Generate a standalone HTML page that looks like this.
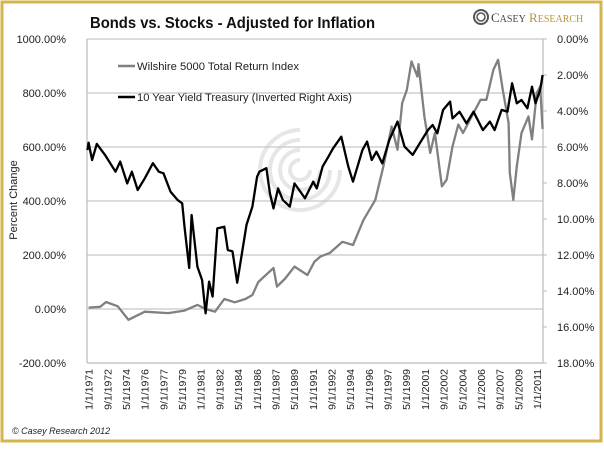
<!DOCTYPE html>
<html><head><meta charset="utf-8"><style>
body{margin:0;width:604px;height:444px;overflow:hidden;background:#fff;font-family:"Liberation Sans",sans-serif}
</style></head><body>
<svg id="c" width="604" height="444" xmlns="http://www.w3.org/2000/svg">
<rect x="2" y="2" width="599" height="439" fill="#fff" stroke="#d6b44c" stroke-width="3"/>
<text x="90" y="28" font-size="16" font-weight="bold" fill="#111" textLength="285" lengthAdjust="spacingAndGlyphs">Bonds vs. Stocks - Adjusted for Inflation</text>
<g>
<circle cx="481" cy="17" r="7" fill="none" stroke="#555" stroke-width="2"/>
<circle cx="481" cy="17" r="4" fill="none" stroke="#555" stroke-width="1.5"/>
<text x="491" y="22" font-family="Liberation Serif" font-size="13" fill="#444">C<tspan font-size="10">ASEY</tspan> <tspan fill="#b8953a">R<tspan font-size="10">ESEARCH</tspan></tspan></text>
</g>
<g id="wm" fill="none" stroke="#e6e6e6" stroke-width="4">
<path d="M300,160 a10,10 0 1,0 10,10"/><path d="M300,150 a20,20 0 1,0 20,20"/><path d="M300,140 a30,30 0 1,0 30,30"/><path d="M300,130 a40,40 0 1,0 40,40"/>
</g>
<g id="grid"></g>
<g id="axes"></g>
<g id="series"></g>
<g>
<line x1="118" y1="66" x2="135" y2="66" stroke="#808080" stroke-width="2.5"/>
<text x="137" y="70" font-size="11" fill="#222" textLength="162" lengthAdjust="spacingAndGlyphs">Wilshire 5000 Total Return Index</text>
<line x1="118" y1="97" x2="135" y2="97" stroke="#000" stroke-width="2.5"/>
<text x="137" y="101" font-size="11" fill="#222" textLength="215" lengthAdjust="spacingAndGlyphs">10 Year Yield Treasury (Inverted Right Axis)</text>
</g>
<text transform="translate(17,200) rotate(-90)" text-anchor="middle" font-size="11" fill="#222">Percent Change</text>
<text x="12" y="434" font-size="9" font-style="italic" fill="#222">© Casey Research 2012</text>
</svg>
<script>
const leftTicks=[1000,800,600,400,200,0,-200];
const rightTicks=[0,2,4,6,8,10,12,14,16,18];
const xLabels=["1/1/1971","9/1/1972","5/1/1974","1/1/1976","9/1/1977","5/1/1979","1/1/1981","9/1/1982","5/1/1984","1/1/1986","9/1/1987","5/1/1989","1/1/1991","9/1/1992","5/1/1994","1/1/1996","9/1/1997","5/1/1999","1/1/2001","9/1/2002","5/1/2004","1/1/2006","9/1/2007","5/1/2009","1/1/2011"];
const stockYears=[1971,1972,1972.5,1973.5,1974.4,1975.8,1977.8,1979.2,1980.3,1981,1981.8,1982.6,1983.5,1984.4,1985,1985.5,1986.8,1987.1,1987.8,1988.6,1989.7,1990.3,1990.8,1991.6,1992.7,1993.6,1994.5,1995.5,1996.2,1996.9,1997.4,1997.8,1998.2,1998.6,1999.1,1999.2,1999.7,2000.2,2000.6,2001.2,2001.6,2002.1,2002.6,2003,2003.9,2004.5,2005,2005.6,2006,2006.4,2006.9,2007,2007.3,2007.6,2008,2008.6,2008.9,2009.3,2009.6,2009.8];
const stockValues=[5,8,26,10,-40,-10,-15,-6,15,0,-10,37,25,37,52,100,152,83,113,157,126,175,194,207,249,237,330,404,528,676,590,763,811,917,861,907,713,578,652,454,479,602,683,652,726,775,775,886,923,811,689,504,404,528,652,713,628,800,824,667];
const bondYears=[1970.9,1971,1971.3,1971.7,1972.4,1973.3,1973.7,1974.3,1974.7,1975.2,1975.8,1976.5,1977,1977.4,1978,1978.6,1979,1979.2,1979.6,1979.8,1980.3,1980.7,1981,1981.3,1981.6,1982,1982.6,1982.9,1983.3,1983.7,1984.2,1984.5,1985,1985.4,1985.6,1986.2,1986.5,1986.8,1987.2,1987.6,1988.2,1988.6,1989.5,1990.2,1990.5,1991,1991.5,1991.9,1992.6,1993.2,1993.6,1994.4,1994.8,1995.2,1995.6,1996.1,1996.7,1997.4,1998,1998.7,1999.3,2000,2000.4,2000.8,2001.3,2001.9,2002.1,2002.7,2003.3,2003.9,2004.7,2005.3,2005.7,2006.3,2006.8,2007.2,2007.6,2008,2008.5,2008.9,2009.2,2009.6,2009.8];
const bondYields=[6.17,5.76,6.72,5.83,6.44,7.37,6.81,8.02,7.37,8.39,7.74,6.9,7.37,7.46,8.48,8.94,9.13,10.43,12.72,9.78,12.65,13.39,15.24,13.48,14.31,10.52,10.43,11.72,11.8,13.54,11.54,10.33,9.31,7.65,7.37,7.18,8.57,9.41,8.3,8.94,9.31,8.02,8.85,7.93,8.3,7.09,6.54,6.07,5.43,7.09,7.93,6.17,5.7,6.72,6.26,6.91,5.61,4.59,5.98,6.44,5.8,5.06,4.78,5.24,3.94,3.48,4.41,4.04,4.69,4.04,5.06,4.59,5.06,3.94,4.04,2.46,3.57,3.39,3.85,2.65,3.57,2.83,2.0];
const NS="http://www.w3.org/2000/svg";
const L=87,R=543,T=39,B=363;
const yL=v=>T+(1000-v)*(B-T)/1200;
const yR=v=>T+v*(B-T)/18;
const xY=yr=>88.6+(yr-1971)*11.7;
function mk(tag,attrs,parent){const e=document.createElementNS(NS,tag);for(const k in attrs)e.setAttribute(k,attrs[k]);parent.appendChild(e);return e;}
const grid=document.getElementById('grid'),axes=document.getElementById('axes'),ser=document.getElementById('series');
leftTicks.forEach(v=>{
 const g=mk('line',{x1:L,x2:R,y1:yL(v),y2:yL(v),stroke:v===-200?'#bbb':'#c8c8c8','stroke-width':1.2},grid);
 
 
 const t=mk('text',{x:L-21,y:yL(v)+4,'text-anchor':'end','font-size':11,fill:'#222'},axes);
 t.textContent=v.toFixed(2)+'%';
 
 
});
mk('line',{x1:L,x2:L,y1:T,y2:B,stroke:'#bbb','stroke-width':1.2},axes);
mk('line',{x1:R,x2:R,y1:T,y2:B,stroke:'#bbb','stroke-width':1.2},axes);
rightTicks.forEach(v=>{
 mk('line',{x1:R,x2:R+4,y1:yR(v),y2:yR(v),stroke:'#bbb'},axes);
 const t=mk('text',{x:R+14,y:yR(v)+4,'font-size':11,fill:'#222'},axes);
 t.textContent=v.toFixed(2)+'%';
 
 
});
const step=(537-88.6)/(xLabels.length-1);
xLabels.forEach((s,i)=>{
 const x=88.6+i*step+4;
 const t=mk('text',{transform:`translate(${x.toFixed(1)},${B+6}) rotate(-90)`,'text-anchor':'end','font-size':10.5,fill:'#222'},axes);
 t.textContent=s;
 
 
});
const sp=mk('polyline',{points:stockYears.map((y,i)=>xY(y).toFixed(1)+','+yL(stockValues[i]).toFixed(1)).join(' '),fill:'none',stroke:'#808080','stroke-width':2.3,'stroke-linejoin':'round'},ser);


const bp=mk('polyline',{points:bondYears.map((y,i)=>xY(y).toFixed(1)+','+yR(bondYields[i]).toFixed(1)).join(' '),fill:'none',stroke:'#000','stroke-width':2.3,'stroke-linejoin':'round'},ser);


</script>
</body></html>
